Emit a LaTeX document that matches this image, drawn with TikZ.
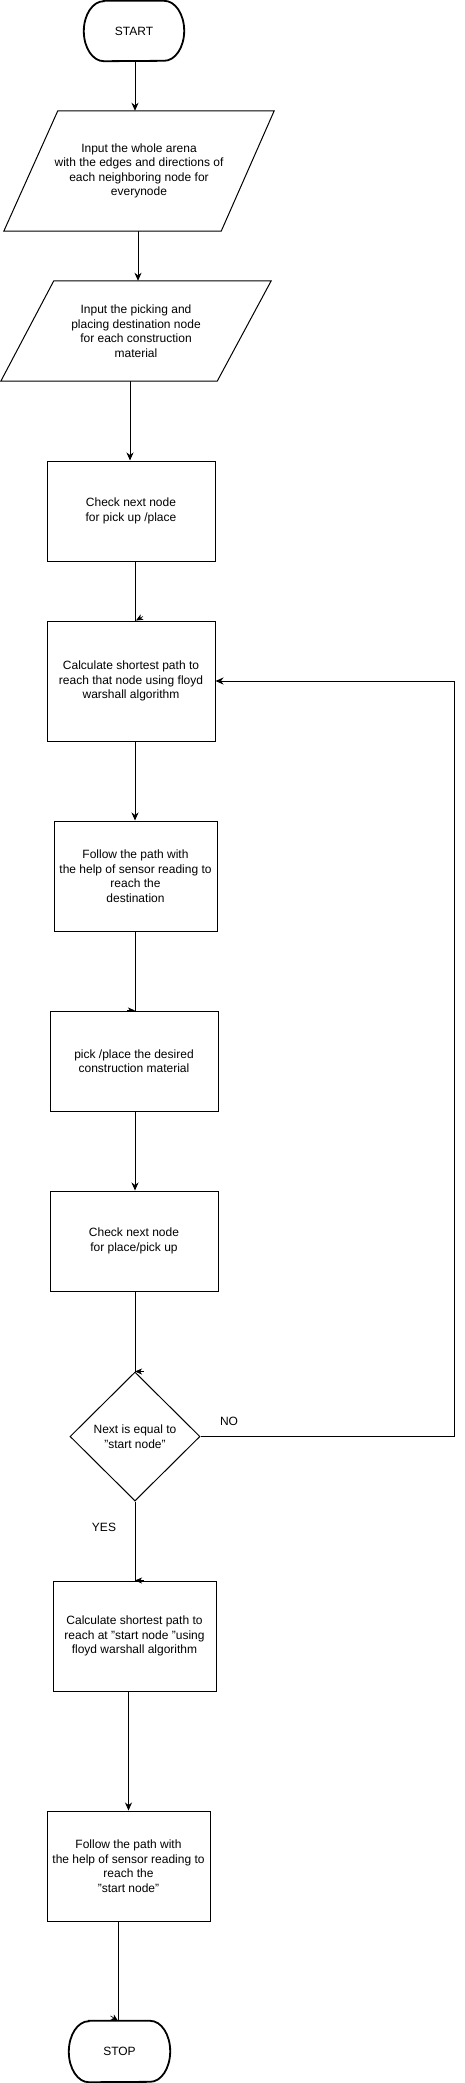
\documentclass[tikz,border=0pt]{standalone}
\usepackage{fontspec}
\setmainfont{Liberation Sans}
\usetikzlibrary{arrows.meta,shapes.geometric}
\pgfdeclarelayer{bg}
\pgfdeclarelayer{mid}
\pgfsetlayers{bg,mid,main}
\tikzset{
  txt/.style={align=center,font=\fontsize{12}{14.5}\selectfont,inner sep=0pt},
  box/.style={txt,draw,fill=white,line width=1pt},
  term/.style={txt},
  termline/.style={line width=1.8pt,fill=white},
  conn/.style={line width=1pt,-{Stealth[length=8pt,width=7pt,inset=2.5pt]}},
  plain/.style={line width=1pt},
  stub/.style={line width=0.6pt,-{Stealth[length=7pt,width=6pt,inset=2pt]}},
  lab/.style={font=\fontsize{12}{14.5}\selectfont,inner sep=0pt},
  dia/.style={txt,draw,fill=white,diamond,aspect=1,minimum width=130pt,minimum height=129pt,line width=1pt},
  para/.style={draw,fill=white,line width=1pt}
}
\begin{document}
\begin{tikzpicture}[x=1pt,y=-1pt]
\useasboundingbox (0,0) rectangle (465,2083);
\begin{pgfonlayer}{bg}
\fill[white] (0,0) rectangle (465,2083);
\end{pgfonlayer}

% START
\node[term,minimum width=100pt,minimum height=60pt] (start) at (134,31) {START};
\begin{pgfonlayer}{mid}
\draw[termline] ([xshift=20pt]start.north west) -- ([xshift=-20pt]start.north east)
  arc[start angle=90,end angle=-90,x radius=20pt,y radius=30pt]
  -- ([xshift=20pt]start.south west)
  arc[start angle=270,end angle=90,x radius=20pt,y radius=30pt] -- cycle;
\end{pgfonlayer}

% input 1
\node[txt,minimum width=270pt,minimum height=120pt] (in1) at (139,171)
  {Input the whole arena\\with the edges and directions of\\each neighboring node for\\everynode};
\begin{pgfonlayer}{mid}
\draw[para] ([xshift=54pt]in1.north west) -- (in1.north east)
  -- ([xshift=-53pt]in1.south east) -- (in1.south west) -- cycle;
\end{pgfonlayer}

% input 2
\node[txt,minimum width=270pt,minimum height=100pt] (in2) at (136,331)
  {Input the picking and\\placing destination node\\for each construction\\material};
\begin{pgfonlayer}{mid}
\draw[para] ([xshift=53pt]in2.north west) -- (in2.north east)
  -- ([xshift=-54pt]in2.south east) -- (in2.south west) -- cycle;
\end{pgfonlayer}

% boxes
\node[box,minimum width=168pt,minimum height=100pt] (b1) at (131,511)
  {Check next node\\for pick up /place};
\node[box,minimum width=168pt,minimum height=120pt] (b2) at (131,681)
  {Calculate shortest path to\\reach that node using floyd\\warshall algorithm};
\node[box,minimum width=163pt,minimum height=110pt] (b3) at (135.5,876)
  {Follow the path with\\the help of sensor reading to\\reach the\\destination};
\node[box,minimum width=168pt,minimum height=100pt] (b4) at (134,1061)
  {pick /place the desired\\construction material};
\node[box,minimum width=168pt,minimum height=100pt] (b5) at (134,1241)
  {Check next node\\for place/pick up};
\node[dia] (dec) at (135,1436.5) {Next is equal to\\"start node"};
\node[box,minimum width=163pt,minimum height=110pt] (b6) at (134.5,1636)
  {Calculate shortest path to\\reach at "start node "using\\floyd warshall algorithm};
\node[box,minimum width=163pt,minimum height=110pt] (b7) at (128.5,1866)
  {Follow the path with\\the help of sensor reading to\\reach the\\"start node"};

% STOP
\node[term,minimum width=101pt,minimum height=61pt] (stop) at (119.5,2051.5) {STOP};
\begin{pgfonlayer}{mid}
\draw[termline] ([xshift=20pt]stop.north west) -- ([xshift=-20pt]stop.north east)
  arc[start angle=90,end angle=-90,x radius=20pt,y radius=30.5pt]
  -- ([xshift=20pt]stop.south west)
  arc[start angle=270,end angle=90,x radius=20pt,y radius=30.5pt] -- cycle;
\end{pgfonlayer}

% labels
\node[lab] (yes) at (104,1527) {YES};
\node[lab] (no) at (229,1421) {NO};
\coordinate (loop) at (454,0);

% connectors
\begin{pgfonlayer}{bg}
\draw[conn] ([xshift=1pt]start.south) -- ([xshift=-4pt]in1.north);
\draw[conn] ([xshift=-1pt]in1.south) -- ([xshift=2pt]in2.north);
\draw[conn] ([xshift=-6pt]in2.south) -- ([xshift=-1pt]b1.north);
\draw[plain] ([xshift=4pt]b1.south) -- ([xshift=4pt]b2.north);
\draw[stub] ([shift={(12,-4)}]b2.north) -- ([xshift=5pt]b2.north);
\draw[conn] ([xshift=4pt]b2.south) -- ([xshift=-0.5pt]b3.north);
\draw[plain] ([xshift=-0.5pt]b3.south) -- ([xshift=1pt]b4.north);
\draw[stub] ([xshift=-7pt]b4.north) -- ([xshift=1pt]b4.north);
\draw[conn] ([xshift=1pt]b4.south) -- ([xshift=1pt]b5.north);
\draw[plain] ([xshift=1pt]b5.south) -- (dec.north);
\draw[plain] (dec.south) -- ([xshift=0.5pt]b6.north);
\draw[conn] (dec.east) -- (dec.east -| loop) -- (loop |- b2.east) -- (b2.east);
\draw[conn] ([xshift=-6pt]b6.south) -- (b7.north);
\draw[plain] ([xshift=-10.5pt]b7.south) -- ([xshift=-1.5pt]stop.north);
\draw[stub] ([shift={(-9,-5)}]stop.north) -- ([xshift=-1.5pt]stop.north);
\end{pgfonlayer}
\draw[stub] ([xshift=9pt]dec.north) -- (dec.north);
\draw[stub] ([xshift=9.5pt]b6.north) -- ([xshift=0.5pt]b6.north);
\end{tikzpicture}
\end{document}
